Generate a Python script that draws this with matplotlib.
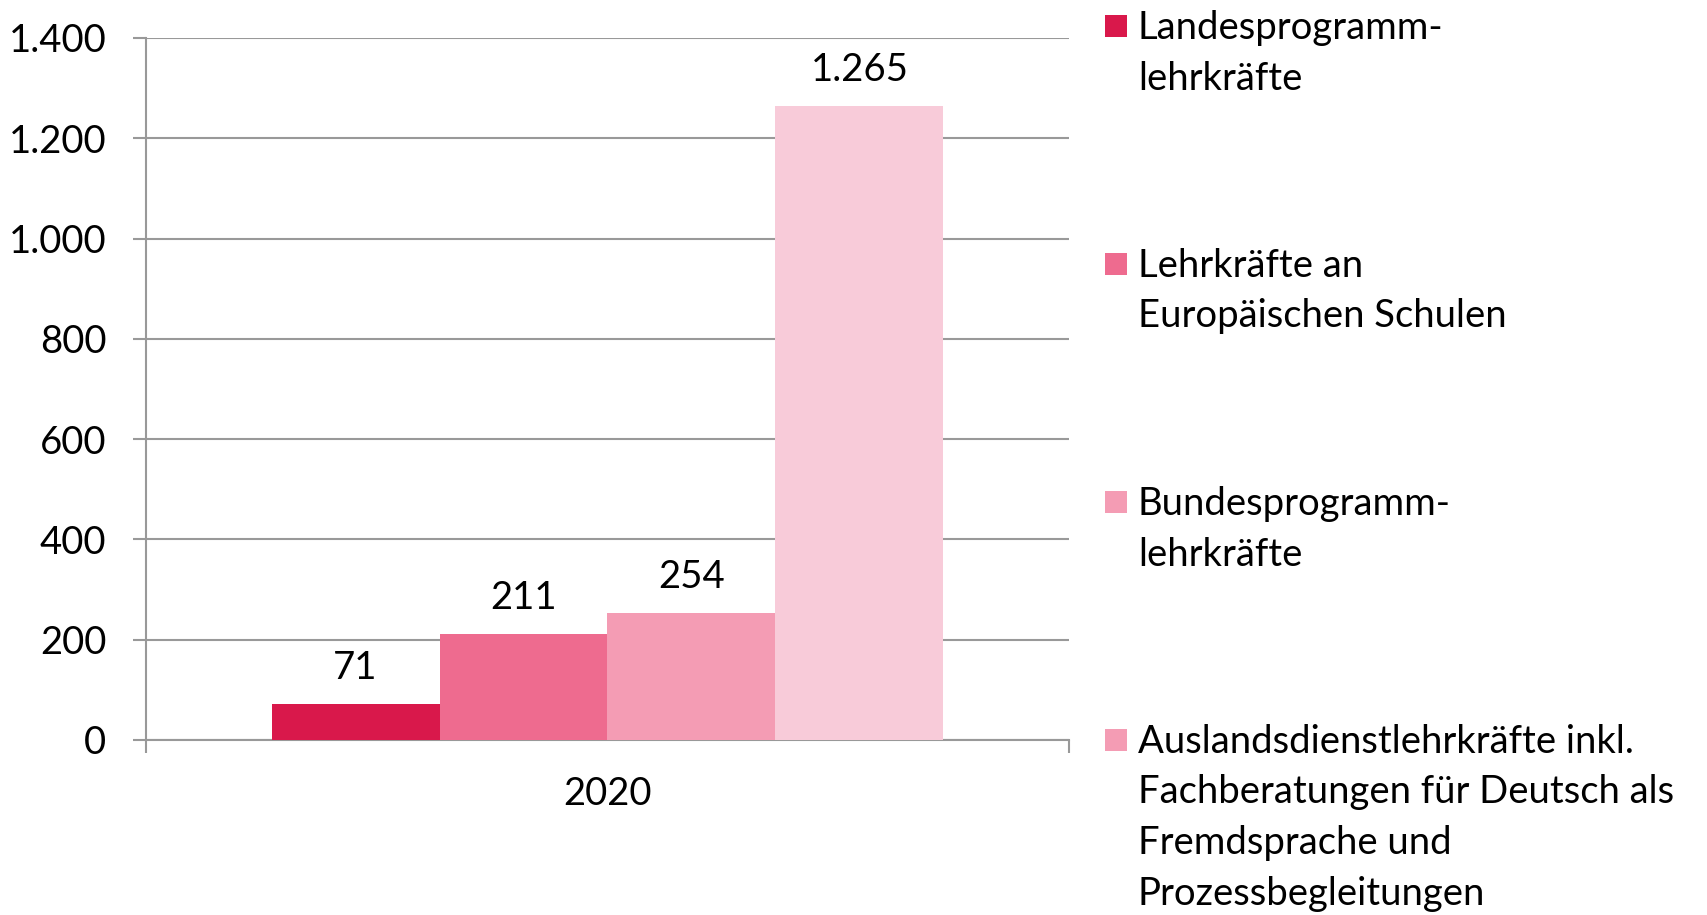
import matplotlib
matplotlib.use("Agg")
import matplotlib.pyplot as plt
from matplotlib.patches import Rectangle
from matplotlib.ticker import FuncFormatter

plt.rcParams['font.family'] = ['Lato', 'DejaVu Sans']

category = ["2020"]
series_names = [
    "Landesprogramm-\nlehrkräfte",
    "Lehrkräfte an\nEuropäischen Schulen",
    "Bundesprogramm-\nlehrkräfte",
    "Auslandsdienstlehrkräfte inkl.\nFachberatungen für Deutsch als\nFremdsprache und\nProzessbegleitungen",
]
values = [71, 211, 254, 1265]
bar_colors = ["#D9184B", "#EE6B8F", "#F49CB4", "#F8CBD9"]
legend_colors = ["#D9184B", "#EE6B8F", "#F49CB4", "#F49CB4"]
yticks = [0, 200, 400, 600, 800, 1000, 1200, 1400]

W, H = 1708, 915
fig = plt.figure(figsize=(W / 100, H / 100), dpi=100)
ax = fig.add_axes([146 / W, 1 - 740 / H, (1069 - 146) / W, (740 - 38) / H])

FS = 27.5
grey = "#999999"
bw = 0.182
n = len(values)
for i, (v, c) in enumerate(zip(values, bar_colors)):
    x = (i - (n - 1) / 2) * bw
    ax.bar(x, v, width=bw, color=c, zorder=3, linewidth=0)
    ax.annotate(f"{v:,}".replace(",", "."), (x, v), xytext=(0, 26), textcoords="offset points",
                ha="center", va="center", fontsize=FS, color="black", zorder=4)

ax.set_xlim(-0.5, 0.5)
ax.set_ylim(0, 1400)
ax.set_yticks(yticks)
ax.yaxis.set_major_formatter(FuncFormatter(lambda v, p: f"{int(v):,}".replace(",", ".")))
ax.grid(axis="y", color=grey, linewidth=1.5, zorder=0)
ax.tick_params(axis="y", length=9.5, width=1.5, color=grey, pad=19, labelsize=FS)
ax.set_xticks([0])
ax.set_xticklabels(category)
ax.set_xticks([-0.5, 0.5], minor=True)
ax.tick_params(axis="x", which="major", length=0, pad=26, labelsize=FS)
ax.tick_params(axis="x", which="minor", length=9, width=1.5, color=grey)
for s in ["top", "right"]:
    ax.spines[s].set_visible(False)
for s in ["left", "bottom"]:
    ax.spines[s].set_color(grey)
    ax.spines[s].set_linewidth(1.5)

# legend
item_y = [26, 264, 502, 740]
for name, c, y in zip(series_names, legend_colors, item_y):
    fig.patches.append(Rectangle((1105 / W, 1 - (y + 11) / H), 22 / W, 22 / H,
                                 transform=fig.transFigure, color=c, linewidth=0))
    fig.text(1138 / W, 1 - (y - 16) / H, name, ha="left", va="top", fontsize=FS,
             linespacing=1.5, color="black")

fig.savefig("out.png", dpi=100)
